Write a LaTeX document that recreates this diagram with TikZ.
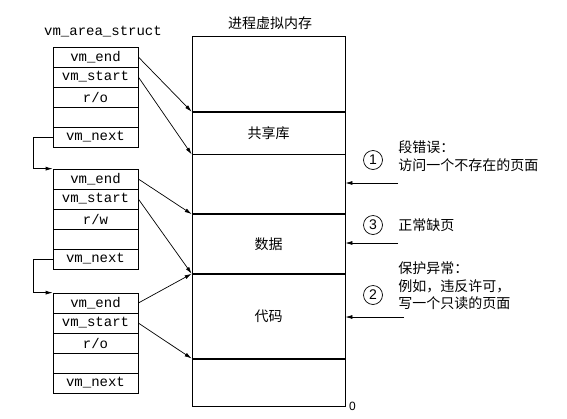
\documentclass[tikz,border=0pt]{standalone}
\usepackage{fontspec}
\setmonofont{Liberation Mono}
\setsansfont{Liberation Sans}
\newfontfamily\cjk{Noto Sans CJK SC}
\usetikzlibrary{positioning,arrows.meta}

\tikzset{
  field/.style={draw, minimum width=85pt, minimum height=20pt, inner sep=0pt,
    font=\ttfamily\fontsize{14}{14}\selectfont},
  region/.style={draw, minimum width=153pt, inner sep=0pt,
    font=\cjk\fontsize{14}{14}\selectfont},
  note/.style={anchor=west, align=left, inner sep=0pt,
    font=\cjk\fontsize{14}{17.5}\selectfont},
  num/.style={draw, circle, minimum size=19pt, inner sep=0pt,
    font=\sffamily\fontsize{14}{14}\selectfont},
  link/.style={-{Latex[length=7pt,width=4pt]}},
}

\begin{document}
\begin{tikzpicture}[x=1pt, y=-1pt, line width=0.7pt]
  \useasboundingbox (0,0) rectangle (567,418);

  \node[font=\ttfamily\fontsize{14}{14}\selectfont] (title) at (103,32) {vm\_area\_struct};
  \node[font=\cjk\fontsize{14}{14}\selectfont] (memtitle) at (270,23) {进程虚拟内存};

  \begin{scope}[on grid, node distance=20pt]
    \node[field] (e1) at (95.5,57) {vm\_end};
    \node[field, below=of e1] (s1) {vm\_start};
    \node[field, below=of s1] (p1) {r/o};
    \node[field, below=of p1] (b1) {};
    \node[field, below=of b1] (n1) {vm\_next};

    \node[field] (e2) at (95.5,179) {vm\_end};
    \node[field, below=of e2] (s2) {vm\_start};
    \node[field, below=of s2] (p2) {r/w};
    \node[field, below=of p2] (b2) {};
    \node[field, below=of b2] (n2) {vm\_next};

    \node[field] (e3) at (95.5,303) {vm\_end};
    \node[field, below=of e3] (s3) {vm\_start};
    \node[field, below=of s3] (p3) {r/o};
    \node[field, below=of p3] (b3) {};
    \node[field, below=of b3] (n3) {vm\_next};
  \end{scope}

  \node[region, minimum height=75pt, anchor=north] (top) at (268.5,36) {};
  \node[region, minimum height=42pt, below=0pt of top] (lib) {共享库};
  \node[region, minimum height=59pt, below=0pt of lib] (gap) {};
  \node[region, minimum height=59pt, below=0pt of gap] (data) {数据};
  \node[region, minimum height=84pt, below=0pt of data] (code) {代码};
  \node[region, minimum height=47pt, below=0pt of code] (bot) {};
  \node[font=\sffamily\fontsize{12}{12}\selectfont, anchor=west] (zero) at (bot.south east) {0};

  \draw[link] (n1.west) -- ++(-19,0) |- (e2.north west);
  \draw[link] (n2.west) -- ++(-19,0) |- (e3.north west);

  \draw[link] (e1.east) -- (lib.north west);
  \draw[link] (s1.east) -- (lib.south west);
  \draw[link] (e2.east) -- (data.north west);
  \draw[link] (s2.east) -- (data.south west);
  \draw[link] (e3.east) -- (code.north west);
  \draw[link] (s3.east) -- (code.south west);

  \node[num] (c1) at (373,160) {1};
  \node[note] (t1) at (398,156) {段错误：\\访问一个不存在的页面};
  \coordinate (q1) at (398,183);
  \draw[link] (q1) -- (q1 -| gap.east);

  \node[num] (c3) at (373,225) {3};
  \node[note] (t3) at (398,225) {正常缺页};
  \coordinate (q3) at (398,243);
  \draw[link] (q3) -- (q3 -| data.east);

  \node[num] (c2) at (373,295) {2};
  \node[note] (t2) at (398,286) {保护异常：\\例如，违反许可，\\写一个只读的页面};
  \coordinate (q2) at (404,317);
  \draw[link] (q2) -- (q2 -| code.east);
\end{tikzpicture}
\end{document}
